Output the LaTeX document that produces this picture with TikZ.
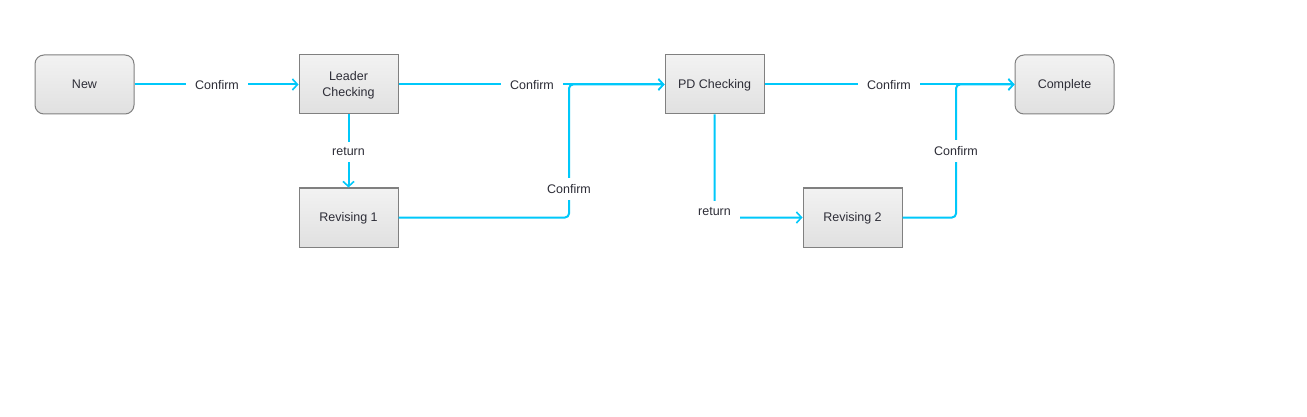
\documentclass[tikz,border=0pt]{standalone}
\usepackage{fontspec}
\setmainfont{Liberation Sans}
\usetikzlibrary{arrows.meta}
\definecolor{flow}{RGB}{0,200,250}
\definecolor{boxline}{RGB}{128,128,128}
\definecolor{txt}{RGB}{45,45,55}
\tikzset{
  stepbox/.style={draw=boxline, line width=1pt, top color=white!95!black, bottom color=white!88!black,
    minimum width=99pt, minimum height=59pt, align=center, text=txt, font=\fontsize{12.5}{16}\selectfont,
    text depth=1pt},
  endbox/.style={stepbox, rounded corners=9pt},
  flowline/.style={draw=flow, line width=2pt, rounded corners=4pt, -{Straight Barb[length=5pt,width=11pt,line width=1.6pt]}},
  lbl/.style={fill=white, text=txt, font=\fontsize{12.5}{14.5}\selectfont, inner xsep=9pt, inner ysep=6pt}
}
\begin{document}
\begin{tikzpicture}[x=1pt,y=-1pt]
\useasboundingbox (0,0) rectangle (1307,417);
\fill[white] (0,0) rectangle (1307,417);
\node[endbox] (new) at (84.5,84.5) {New};
\node[stepbox] (lead) at (348.5,84.5) {Leader\\Checking};
\node[stepbox] (rev1) at (348.5,217.5) {Revising 1};
\node[stepbox] (pd) at (714.5,84.5) {PD Checking};
\node[stepbox] (rev2) at (852.5,217.5) {Revising 2};
\node[endbox] (done) at (1064.5,84.5) {Complete};
\coordinate (c1) at (569,217.5);
\coordinate (c1t) at (569,84.5);
\coordinate (c2) at (714.5,217.5);
\coordinate (c3) at (956,217.5);
\coordinate (c3t) at (956,84.5);
% edges
\draw[flowline] (new) -- (lead);
\draw[flowline] (lead) -- (pd);
\draw[flowline] (lead) -- (rev1);
\draw[flowline] (rev1.east) -- (c1) -- (c1t) -- (pd.west);
\draw[flowline] (pd.south) -- (c2) -- (rev2.west);
\draw[flowline] (pd) -- (done);
\draw[flowline] (rev2.east) -- (c3) -- (c3t) -- (done.west);
% labels
\node[lbl] (l1) at (217,85.5) {Confirm};
\node[lbl] (l2) at (532,85.5) {Confirm};
\node[lbl] (l3) at (348.5,152) {return};
\node[lbl] (l4) at (569,189) {Confirm};
\node[lbl, inner ysep=7pt] (l5) at (714.5,212) {return};
\node[lbl] (l6) at (889,85.5) {Confirm};
\node[lbl] (l7) at (956,151) {Confirm};
\end{tikzpicture}
\end{document}
